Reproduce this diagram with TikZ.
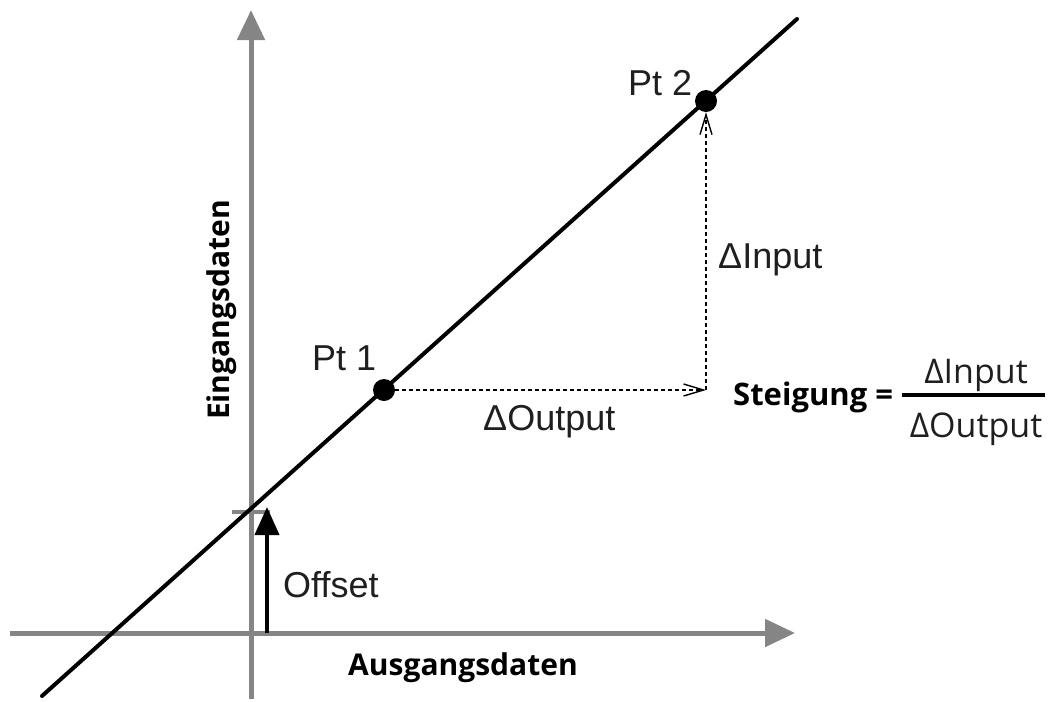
\documentclass[tikz,border=0pt]{standalone}
\usepackage{fontspec}
\setmainfont{Liberation Sans}
\newfontfamily\segoe{Open Sans}
\usetikzlibrary{arrows.meta}
\definecolor{axisgray}{HTML}{858585}
\tikzset{
  axis/.style={draw=axisgray, line width=5pt, -{Triangle[length=30pt,width=27pt]}},
  mainline/.style={draw=black, line width=4pt, line cap=round},
  pt/.style={circle, fill=black, inner sep=0pt, minimum size=22pt},
  dashline/.style={draw=black, line width=1.4pt, dash pattern=on 4pt off 3pt, -{Straight Barb[length=20pt,width=12pt,line width=1.4pt]}},
  lbl/.style={font=\fontsize{36}{40}\selectfont, inner sep=0pt, anchor=base west, text=black!88},
  blbl/.style={font=\segoe\bfseries\fontsize{30}{34}\selectfont, inner sep=0pt},
  frm/.style={font=\segoe\fontsize{34}{38}\selectfont, inner sep=0pt, anchor=base, text=black!88},
}
\begin{document}
\begin{tikzpicture}[x=1pt,y=-1pt]
\useasboundingbox (0,0) rectangle (1053,702);
% axes
\coordinate (xs) at (10,633);
\coordinate (xe) at (795,633);
\coordinate (ys) at (251,699);
\coordinate (ye) at (251,10);
\draw[axis] (xs) -- (xe);
\draw[axis] (ys) -- (ye);
% tick
\coordinate (t1) at (232,512);
\coordinate (t2) at (270,512);
\draw[draw=axisgray, line width=4pt] (t1) -- (t2);
% main line
\coordinate (la) at (42,696);
\coordinate (lb) at (797,19);
\draw[mainline] (la) -- (lb);
% offset arrow
\coordinate (oa) at (267,633);
\coordinate (ob) at (267,507);
\draw[line width=4pt, -{Triangle[length=28pt,width=24pt]}] (oa) -- (ob);
% points
\node[pt] (P1) at (384,390) {};
\node[pt] (P2) at (706,101) {};
\coordinate (C) at (706,390);
\draw[dashline] (P1.east) -- (C);
\draw[dashline] (C) -- (P2.south);
% labels
\node[lbl] (l1) at (312,370) {Pt 1};
\node[lbl] (l2) at (628,95) {Pt 2};
\node[lbl] (di) at (718,268) {ΔInput};
\node[lbl] (do) at (483,430) {ΔOutput};
\node[lbl] (off) at (283,597) {Offset};
\node[blbl, rotate=90] (ein) at (222,310) {Eingangsdaten};
\node[blbl] (aus) at (463,668) {Ausgangsdaten};
% formula
\node[blbl, anchor=base west, font=\segoe\bfseries\fontsize{31}{34}\selectfont] (st) at (733,405) {Steigung =};
\node[frm] (fn) at (976,383) {ΔInput};
\node[frm] (fd) at (976,437) {ΔOutput};
\coordinate (fa) at (902,395);
\coordinate (fb) at (1045,395);
\draw[line width=4pt] (fa) -- (fb);
\end{tikzpicture}
\end{document}
